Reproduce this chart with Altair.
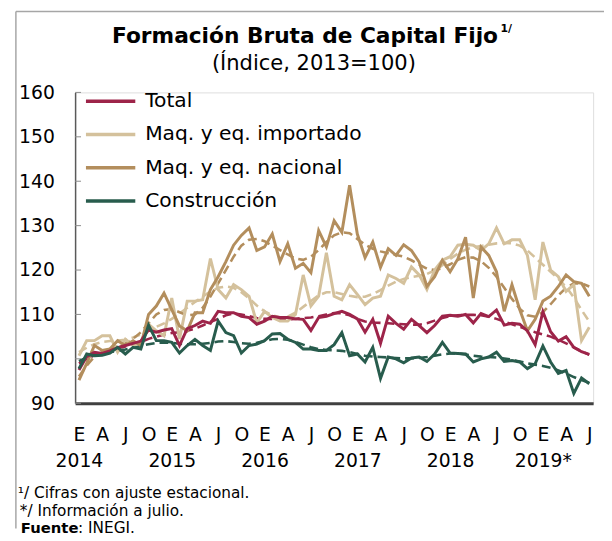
import altair as alt
import pandas as pd

# ---------------- data ----------------
n_months = 67  # Jan 2014 .. Jul 2019
month_letters = ["E", "A", "J", "O"]
year_labels = ["2014", "2015", "2016", "2017", "2018", "2019*"]
y_ticks = [90, 100, 110, 120, 130, 140, 150, 160]

series_names = ["Total", "Maq. y eq. importado", "Maq. y eq. nacional", "Construcción"]
series_colors = ["#9D2449", "#D4C19C", "#B38E5D", "#285C4D"]

total = [97.5, 100.5, 101.5, 101.2, 101.8, 102.5, 103.0, 103.5, 104.0, 106.5,
         106.0, 106.5, 106.8, 103.0, 106.8, 107.5, 108.5, 108.0, 110.7, 110.4,
         110.4, 109.6, 109.3, 107.8, 108.5, 109.6, 109.3, 109.3, 109.0, 108.9,
         106.4, 109.3, 109.6, 110.2, 110.7, 110.0, 109.0, 106.0, 108.9, 103.5,
         109.6, 108.0, 106.7, 108.9, 107.5, 105.9, 107.5, 109.6, 109.8, 109.6,
         110.0, 108.1, 110.2, 109.5, 111.0, 107.6, 108.0, 107.8, 106.3, 103.2,
         110.6, 106.1, 104.0, 105.0, 102.6, 101.6, 101.0]
total_trend = [99.0, 100.0, 100.8, 101.3, 101.8, 102.3, 102.8, 103.3, 103.8, 104.5,
               105.0, 105.5, 105.8, 106.0, 106.3, 106.8, 107.5, 108.3, 109.0, 109.8,
               110.2, 110.0, 109.6, 109.2, 109.0, 109.0, 108.9, 108.9, 109.0, 109.2,
               109.3, 109.6, 110.0, 110.3, 110.3, 109.8, 109.0, 108.4, 108.2, 108.1,
               108.0, 107.9, 107.8, 107.7, 107.7, 108.0, 108.6, 109.2, 109.6, 109.8,
               109.9, 109.9, 109.8, 109.5, 109.0, 108.4, 107.8, 107.2, 106.6, 106.0,
               105.5, 105.0, 104.3, 103.5, 102.6, 101.7, 100.9]

importado = [100.7, 104.1, 104.1, 105.2, 105.2, 101.5, 104.4, 103.0, 103.7, 107.8,
             106.3, 105.2, 113.7, 104.5, 113.0, 113.0, 113.3, 122.6, 115.6, 113.7,
             116.7, 115.6, 114.1, 108.1, 110.7, 109.3, 108.5, 108.5, 110.0, 118.9,
             111.9, 114.1, 123.9, 114.1, 113.3, 116.7, 114.5, 112.2, 113.7, 114.1,
             118.9, 118.1, 117.0, 120.7, 118.9, 115.6, 120.0, 122.2, 123.0, 125.6,
             125.8, 125.6, 124.4, 125.9, 129.5, 125.9, 126.8, 126.8, 123.3, 113.3,
             126.3, 120.0, 118.5, 115.2, 116.7, 104.1, 107.1]
importado_trend = [101.5, 102.5, 103.3, 103.8, 104.0, 104.1, 104.3, 104.8, 105.5, 106.4,
                   107.2, 108.0, 109.0, 110.2, 111.5, 112.8, 114.0, 115.2, 116.0, 116.3,
                   116.0, 115.0, 113.6, 112.0, 110.7, 109.8, 109.3, 109.5, 110.4, 111.7,
                   113.0, 114.3, 115.0, 115.0, 114.6, 114.2, 113.9, 114.0, 114.6, 115.5,
                   116.5, 117.4, 118.0, 118.4, 118.7, 119.1, 119.9, 121.1, 122.5, 123.7,
                   124.6, 125.1, 125.4, 125.7, 126.0, 126.1, 126.0, 125.5, 124.4, 122.8,
                   121.2, 119.6, 118.0, 116.2, 113.8, 111.0, 108.4]

nacional = [95.2, 99.0, 103.0, 101.9, 102.2, 104.1, 103.0, 104.1, 103.0, 110.0,
            111.9, 114.8, 111.1, 107.4, 106.3, 110.4, 110.4, 115.6, 118.5, 121.9,
            125.6, 127.8, 129.5, 124.4, 125.2, 128.1, 121.9, 125.9, 120.4, 121.5,
            119.4, 128.9, 125.2, 131.1, 128.5, 139.1, 128.1, 122.8, 126.3, 120.6,
            124.8, 123.3, 125.7, 124.4, 121.8, 116.3, 118.5, 122.2, 119.6, 122.5,
            127.4, 113.7, 125.2, 123.3, 119.6, 110.7, 116.7, 111.1, 106.3, 108.9,
            113.0, 114.1, 116.3, 118.9, 117.4, 117.0, 114.1]
nacional_trend = [96.0, 98.5, 100.5, 101.5, 102.2, 102.8, 103.5, 104.5, 106.0, 108.0,
                  110.0, 111.0, 111.2, 110.5, 109.8, 110.0, 111.5, 114.0, 117.0, 120.0,
                  123.0, 125.5, 126.8, 127.0, 126.5, 125.5, 124.5, 123.5, 122.6, 122.3,
                  123.0, 124.5, 126.3, 127.8, 128.5, 128.3, 127.0, 125.7, 124.8, 124.2,
                  123.8, 123.4, 123.0, 122.2, 121.2, 120.3, 120.0, 120.4, 121.3, 122.3,
                  122.9, 122.8, 122.0, 120.5, 118.5, 116.0, 113.5, 111.3, 109.8, 109.5,
                  110.5, 112.3, 114.3, 116.0, 117.0, 117.0, 116.3]

construccion = [97.8, 101.1, 100.7, 100.8, 101.3, 102.6, 101.1, 102.6, 102.2, 107.6,
                104.1, 104.1, 103.7, 101.3, 103.0, 104.4, 103.0, 101.9, 108.5, 105.9,
                105.2, 101.3, 103.0, 103.3, 104.1, 105.6, 105.7, 104.4, 103.7, 102.2,
                102.2, 101.9, 101.9, 103.2, 105.9, 100.7, 101.1, 99.3, 102.6, 95.6,
                100.4, 100.0, 99.1, 100.2, 100.4, 99.4, 101.1, 103.7, 101.3, 101.2,
                101.1, 99.3, 100.0, 100.4, 101.5, 99.4, 99.6, 99.3, 97.8, 98.9,
                102.9, 99.3, 96.7, 97.4, 92.2, 95.7, 94.4]
construccion_trend = [99.5, 100.3, 100.8, 101.2, 101.5, 101.8, 102.1, 102.5, 102.9, 103.3,
                      103.6, 103.7, 103.6, 103.4, 103.3, 103.3, 103.4, 103.6, 103.9, 104.0,
                      103.8, 103.5, 103.4, 103.6, 104.0, 104.4, 104.5, 104.3, 103.8, 103.2,
                      102.6, 102.2, 102.0, 101.9, 101.8, 101.5, 101.1, 100.7, 100.5, 100.4,
                      100.3, 100.2, 100.1, 100.1, 100.2, 100.4, 100.7, 101.0, 101.2, 101.2,
                      101.0, 100.7, 100.5, 100.4, 100.3, 100.1, 99.8, 99.4, 99.0, 98.7,
                      98.4, 98.0, 97.4, 96.7, 95.9, 95.2, 94.6]

title_text = "Formación Bruta de Capital Fijo"
title_sup = "1/"
subtitle_text = "(Índice, 2013=100)"
note_lines = ["¹/ Cifras con ajuste estacional.", "*/ Información a julio."]
source_bold = "Fuente"
source_rest = ": INEGI."

# ---------------- tables ----------------
draw_order = [
    ("Maq. y eq. importado", importado, importado_trend),
    ("Maq. y eq. nacional", nacional, nacional_trend),
    ("Total", total, total_trend),
    ("Construcción", construccion, construccion_trend),
]
solid_rows, trend_rows = [], []
for name, vals, trend in draw_order:
    for i in range(n_months):
        solid_rows.append({"i": i, "serie": name, "valor": vals[i]})
        trend_rows.append({"i": i, "serie": name, "valor": trend[i]})
solid_df = pd.DataFrame(solid_rows)
trend_df = pd.DataFrame(trend_rows)
tick_df = pd.DataFrame({"valor": y_ticks})

FONT = "DejaVu Sans"

letters_js = "[" + ",".join("'" + s + "'" for s in month_letters) + "]"
years_js = "[" + ",".join("'" + s + "'" for s in year_labels) + "]"
label_expr = (f"datum.value % 12 == 0 ? [{letters_js}[0], {years_js}[floor(datum.value / 12)]]"
              f" : {letters_js}[floor((datum.value % 12) / 3)]")

x_enc = alt.X("i:Q",
              scale=alt.Scale(domain=[-0.5, n_months - 0.5], nice=False, zero=False),
              axis=alt.Axis(values=list(range(0, n_months, 3)), labelExpr=label_expr,
                            title=None, ticks=False, grid=False,
                            domainColor="#404040", domainWidth=3,
                            labelFontSize=19, labelPadding=23, labelLineHeight=26,
                            labelBaseline="top", labelOverlap=False, labelFlush=False,
                            labelColor="#000000", labelFont=FONT))
y_axis = alt.Axis(values=y_ticks, title=None, ticks=False, grid=False,
                  domainColor="#595959", domainWidth=1.5,
                  labelFontSize=19, labelPadding=21, labelColor="#000000",
                  labelFont=FONT, labelOverlap=False)
y_scale = alt.Scale(domain=[90, 160], nice=False, zero=False)
y_enc = alt.Y("valor:Q", scale=y_scale, axis=y_axis)
color_enc = alt.Color("serie:N",
                      scale=alt.Scale(domain=series_names, range=series_colors),
                      legend=alt.Legend(title=None, orient="none", legendX=9, legendY=-1,
                                        symbolType="stroke", symbolSize=2500,
                                        symbolStrokeWidth=3.5, labelFontSize=20.5,
                                        labelFont=FONT, labelOffset=8, rowPadding=12.7,
                                        clipHeight=20, padding=0, labelColor="#000000",
                                        labelLimit=500))

trend_layer = alt.Chart(trend_df).mark_line(strokeWidth=2.6, strokeDash=[9, 5]).encode(
    x=x_enc, y=y_enc, color=color_enc, detail="serie:N")
solid_layer = alt.Chart(solid_df).mark_line(strokeWidth=3).encode(
    x=x_enc, y=y_enc, color=color_enc, detail="serie:N")

tick_layer = alt.Chart(tick_df).mark_rule(color="#8c8c8c", strokeWidth=1).encode(
    y=y_enc, x=alt.value(0), x2=alt.value(6))

one = alt.Data(values=[{"k": 1}])
frame_top = alt.Chart(one).mark_rule(color="#a6a6a6", strokeWidth=1.5).encode(
    x=alt.value(-60), x2=alt.value(540), y=alt.value(-82))
frame_left = alt.Chart(one).mark_rule(color="#a6a6a6", strokeWidth=1.5).encode(
    x=alt.value(-60), y=alt.value(-82), y2=alt.value(442))

title_mark = alt.Chart(one).mark_text(text=title_text, font=FONT, fontSize=22,
                                      fontWeight="bold", align="center",
                                      baseline="alphabetic", color="#000000").encode(
    x=alt.value(233), y=alt.value(-50))
sup_mark = alt.Chart(one).mark_text(text=title_sup, font=FONT, fontSize=11,
                                    fontWeight="bold", align="left",
                                    baseline="alphabetic", color="#000000").encode(
    x=alt.value(431), y=alt.value(-61))
subtitle_mark = alt.Chart(one).mark_text(text=subtitle_text, font=FONT, fontSize=21.3,
                                         align="center", baseline="alphabetic",
                                         color="#000000").encode(
    x=alt.value(242), y=alt.value(-23))
note1 = alt.Chart(one).mark_text(text=note_lines[0], font=FONT, fontSize=15.5, align="left",
                                 baseline="alphabetic", color="#000000").encode(
    x=alt.value(-58), y=alt.value(411))
note2 = alt.Chart(one).mark_text(text=note_lines[1], font=FONT, fontSize=15.5, align="left",
                                 baseline="alphabetic", color="#000000").encode(
    x=alt.value(-56), y=alt.value(429))
src1 = alt.Chart(one).mark_text(text=source_bold, font=FONT, fontSize=15, fontWeight="bold",
                                align="left", baseline="alphabetic", color="#000000").encode(
    x=alt.value(-55), y=alt.value(447))
src2 = alt.Chart(one).mark_text(text=source_rest, font=FONT, fontSize=15.5, align="left",
                                baseline="alphabetic", color="#000000").encode(
    x=alt.value(3), y=alt.value(447))

chart = alt.layer(
    frame_top, frame_left, tick_layer, trend_layer, solid_layer,
    title_mark, sup_mark, subtitle_mark, note1, note2, src1, src2
).properties(
    width=525, height=315,
    autosize=alt.AutoSizeParams(type="none"),
    padding={"left": 68, "top": 82, "right": 11, "bottom": 132},
    background="#ffffff",
).configure_view(stroke=None).configure(font=FONT)

chart.save("out.html", embed_options={"renderer": "svg", "actions": False})
